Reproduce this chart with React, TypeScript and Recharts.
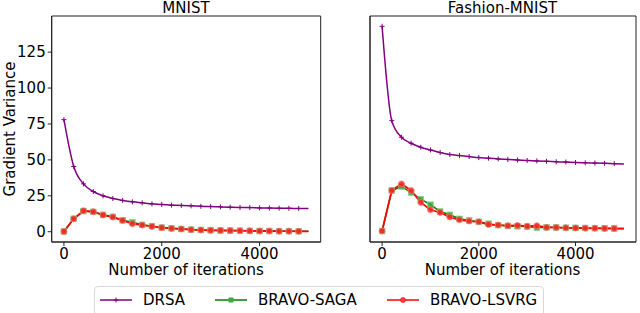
import { LineChart, Line, XAxis, YAxis, ReferenceArea } from "recharts";

// iterations sampled every 200; markers drawn up to 4800 (last point has none)
const iterations = [
  0, 200, 400, 600, 800, 1000, 1200, 1400, 1600, 1800, 2000, 2200, 2400, 2600,
  2800, 3000, 3200, 3400, 3600, 3800, 4000, 4200, 4400, 4600, 4800, 5000,
];

const mnistDrsa = [
  78, 45.4, 33.3, 28, 25, 23.1, 21.8, 20.8, 20.1, 19.4, 19.0, 18.5, 18.3, 18.0,
  17.7, 17.5, 17.3, 17.1, 16.9, 16.8, 16.6, 16.5, 16.4, 16.3, 16.2, 16.1,
];
const mnistSaga = [
  0.2, 9.0, 14.4, 13.8, 11.8, 10.4, 8.0, 6.6, 4.8, 3.9, 2.9, 2.4, 1.9, 1.5, 1.2,
  1.0, 0.9, 0.8, 0.7, 0.6, 0.5, 0.5, 0.4, 0.4, 0.3, 0.3,
];
const mnistLsvrg = [
  0.2, 9.0, 14.6, 13.9, 11.6, 10.2, 7.8, 5.6, 4.6, 3.7, 2.8, 2.3, 1.9, 1.4, 1.2,
  1.0, 0.9, 0.8, 0.7, 0.6, 0.5, 0.5, 0.4, 0.4, 0.3, 0.3,
];

const fashionDrsa = [
  143, 77.3, 65.8, 61.6, 58.8, 56.9, 55.1, 53.7, 53.0, 52.3, 51.6, 51.2, 50.7,
  50.3, 49.9, 49.6, 49.3, 49.0, 48.7, 48.5, 48.2, 48.0, 47.8, 47.6, 47.4, 47.2,
];
const fashionSaga = [
  0.5, 28.7, 31.5, 27.3, 22.7, 18.8, 14.1, 11.8, 9.0, 7.9, 6.9, 5.6, 4.6, 4.0,
  3.8, 3.6, 2.8, 3.1, 3.0, 2.8, 2.7, 2.6, 2.5, 2.4, 2.3, 2.2,
];
const fashionLsvrg = [
  0.5, 28.7, 33.3, 28.7, 20.4, 15.3, 13.4, 10.2, 8.3, 7.4, 6.9, 5.0, 4.6, 4.2,
  4.4, 3.8, 4.2, 3.0, 3.0, 2.7, 2.6, 2.5, 2.4, 2.3, 2.2, 2.1,
];

const xTicks = [0, 2000, 4000];
const yTicks = [0, 25, 50, 75, 100, 125];
const seriesNames = ["DRSA", "BRAVO-SAGA", "BRAVO-LSVRG"];

const FONT = "'DejaVu Sans', sans-serif";
const PURPLE = "#800080";
const GREEN = "#008000";
const RED = "#ff0000";
const X_DOMAIN: [number, number] = [-250, 5250];
const Y_DOMAIN: [number, number] = [-7.15, 150.15];

const toRows = (drsa: number[], saga: number[], lsvrg: number[]) =>
  iterations.map((it, i) => ({ it, drsa: drsa[i], saga: saga[i], lsvrg: lsvrg[i] }));

const hasMarker = (p: any) => p && p.payload && p.payload.it <= 4800;

const plusDot = (p: any) => {
  if (!hasMarker(p)) return <g key={`p${p.index}`} />;
  const { cx, cy } = p;
  return (
    <g key={`p${p.index}`} stroke={PURPLE} strokeWidth={1}>
      <line x1={cx - 2.5} x2={cx + 2.5} y1={cy} y2={cy} />
      <line x1={cx} x2={cx} y1={cy - 2.5} y2={cy + 2.5} />
    </g>
  );
};

const squareDot = (p: any) => {
  if (!hasMarker(p)) return <g key={`s${p.index}`} />;
  return (
    <rect
      key={`s${p.index}`}
      x={p.cx - 2.8}
      y={p.cy - 2.8}
      width={5.6}
      height={5.6}
      fill="#3aa83a"
      stroke="#7cc87c"
      strokeWidth={0.8}
      opacity={0.85}
    />
  );
};

const circleDot = (p: any) => {
  if (!hasMarker(p)) return <g key={`c${p.index}`} />;
  return (
    <circle
      key={`c${p.index}`}
      cx={p.cx}
      cy={p.cy}
      r={3}
      fill="#ff2020"
      stroke="#ff7070"
      strokeWidth={0.8}
      opacity={0.85}
    />
  );
};

const tickStyle = { fill: "#000", fontSize: 15, fontFamily: FONT };

function Panel({
  rows,
  width,
  leftMargin,
  rightMargin,
  showYLabels,
}: {
  rows: ReturnType<typeof toRows>;
  width: number;
  leftMargin: number;
  rightMargin: number;
  showYLabels: boolean;
}) {
  return (
    <LineChart
      width={width}
      height={285}
      data={rows}
      margin={{ top: 16, right: rightMargin, left: leftMargin, bottom: 0 }}
    >
      <XAxis
        dataKey="it"
        type="number"
        domain={X_DOMAIN}
        allowDataOverflow
        ticks={xTicks}
        height={43}
        tickSize={4}
        tickMargin={2}
        tick={tickStyle}
        stroke="#222"
      />
      <YAxis
        type="number"
        domain={Y_DOMAIN}
        allowDataOverflow
        ticks={yTicks}
        width={40}
        tickSize={4}
        tickMargin={2}
        tick={showYLabels ? tickStyle : false}
        stroke="#222"
      />
      {/* full frame around the axes, like matplotlib's four spines */}
      <ReferenceArea
        x1={X_DOMAIN[0]}
        x2={X_DOMAIN[1]}
        y1={Y_DOMAIN[0]}
        y2={Y_DOMAIN[1]}
        fill="none"
        stroke="#222"
        strokeWidth={1}
        ifOverflow="visible"
      />
      <Line
        dataKey="drsa"
        type="monotone"
        stroke={PURPLE}
        strokeWidth={1.5}
        dot={plusDot}
        activeDot={false}
        isAnimationActive={false}
      />
      <Line
        dataKey="saga"
        type="linear"
        stroke={GREEN}
        strokeWidth={1.5}
        dot={squareDot}
        activeDot={false}
        isAnimationActive={false}
      />
      <Line
        dataKey="lsvrg"
        type="linear"
        stroke={RED}
        strokeWidth={1.8}
        dot={circleDot}
        activeDot={false}
        isAnimationActive={false}
      />
    </LineChart>
  );
}

function LegendSample({ color, kind }: { color: string; kind: "plus" | "square" | "circle" }) {
  return (
    <svg width={32} height={10} style={{ display: "block" }}>
      <line x1={0} x2={32} y1={5} y2={5} stroke={color} strokeWidth={1.5} />
      {kind === "plus" && (
        <g stroke={color} strokeWidth={1}>
          <line x1={13.5} x2={18.5} y1={5} y2={5} />
          <line x1={16} x2={16} y1={2.5} y2={7.5} />
        </g>
      )}
      {kind === "square" && <rect x={13.5} y={2.5} width={5} height={5} fill="#3aa83a" />}
      {kind === "circle" && <circle cx={16} cy={5} r={2.5} fill="#ff4040" stroke={color} strokeWidth={0.6} />}
    </svg>
  );
}

export default function App() {
  const legendItems: { name: string; color: string; kind: "plus" | "square" | "circle"; left: number }[] = [
    { name: seriesNames[0], color: PURPLE, kind: "plus", left: 100 },
    { name: seriesNames[1], color: GREEN, kind: "square", left: 215 },
    { name: seriesNames[2], color: RED, kind: "circle", left: 387 },
  ];

  return (
    <div
      style={{
        position: "absolute",
        left: 0,
        top: 0,
        width: 640,
        height: 313,
        background: "#fff",
        fontFamily: FONT,
        overflow: "hidden",
      }}
    >
      <div style={{ position: "absolute", left: 0, top: 0 }}>
        <Panel
          rows={toRows(mnistDrsa, mnistSaga, mnistLsvrg)}
          width={330}
          leftMargin={11.7}
          rightMargin={9.3}
          showYLabels
        />
      </div>
      <div style={{ position: "absolute", left: 330, top: 0 }}>
        <Panel
          rows={toRows(fashionDrsa, fashionSaga, fashionLsvrg)}
          width={310}
          leftMargin={0}
          rightMargin={4}
          showYLabels={false}
        />
      </div>

      <svg
        width={640}
        height={285}
        style={{ position: "absolute", left: 0, top: 0, pointerEvents: "none" }}
        fontFamily={FONT}
        fontSize={15}
        fill="#000"
      >
        <text x={186} y={13} textAnchor="middle">MNIST</text>
        <text x={502.5} y={13} textAnchor="middle">Fashion-MNIST</text>
        <text x={186} y={275} textAnchor="middle">Number of iterations</text>
        <text x={502.5} y={275} textAnchor="middle">Number of iterations</text>
        <text transform="translate(14.5,129) rotate(-90)" textAnchor="middle">
          Gradient Variance
        </text>
      </svg>

      <div
        style={{
          position: "absolute",
          left: 94,
          top: 286,
          width: 450,
          height: 30,
          border: "1px solid #d8d8d8",
          borderRadius: 4,
          boxSizing: "border-box",
        }}
      />
      {legendItems.map((item) => (
        <div
          key={item.name}
          style={{
            position: "absolute",
            left: item.left,
            top: 292,
            display: "flex",
            alignItems: "center",
            fontSize: 15,
            lineHeight: "16px",
            color: "#000",
          }}
        >
          <LegendSample color={item.color} kind={item.kind} />
          <span style={{ marginLeft: 11 }}>{item.name}</span>
        </div>
      ))}
    </div>
  );
}
